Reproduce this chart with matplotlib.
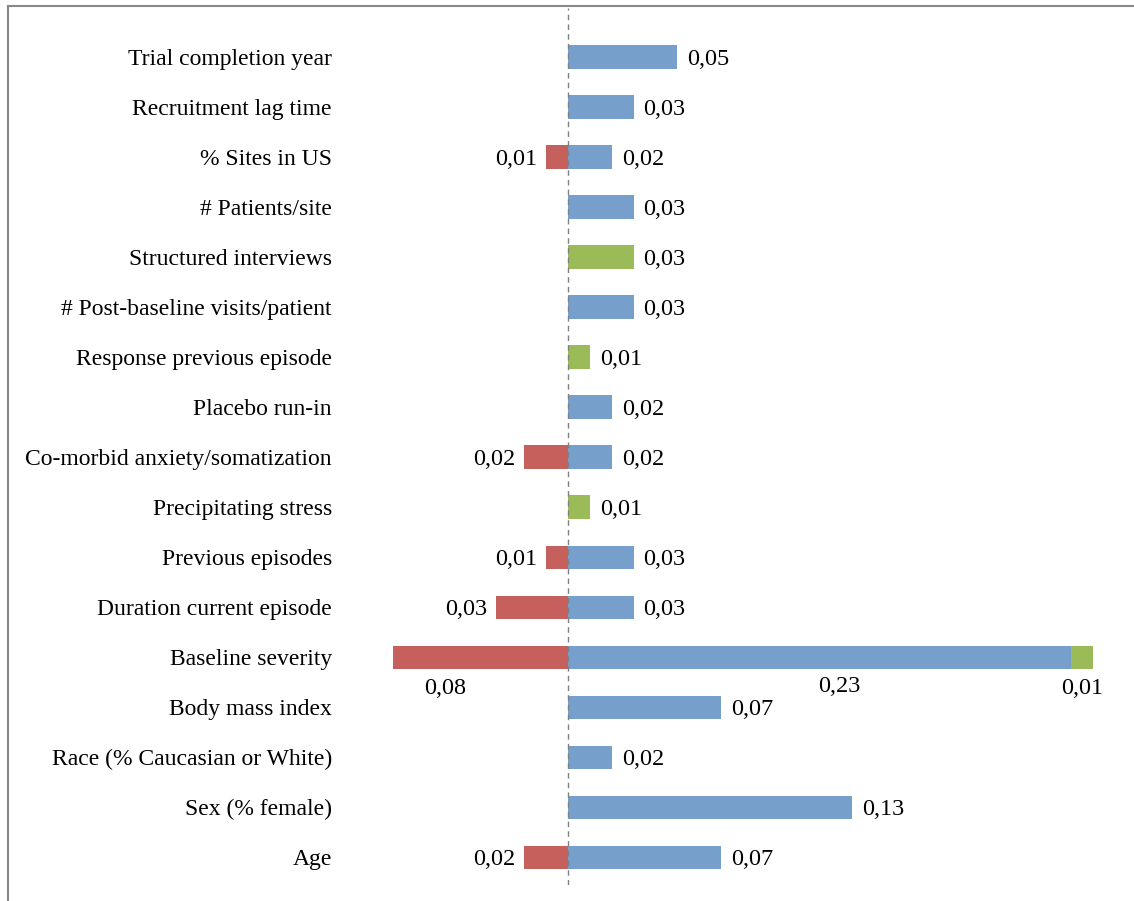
import matplotlib
matplotlib.use("Agg")
import matplotlib.pyplot as plt
from matplotlib.lines import Line2D

plt.rcParams["font.family"] = ["Liberation Serif", "DejaVu Serif"]

# categories top to bottom
categories = [
    "Trial completion year",
    "Recruitment lag time",
    "% Sites in US",
    "# Patients/site",
    "Structured interviews",
    "# Post-baseline visits/patient",
    "Response previous episode",
    "Placebo run-in",
    "Co-morbid anxiety/somatization",
    "Precipitating stress",
    "Previous episodes",
    "Duration current episode",
    "Baseline severity",
    "Body mass index",
    "Race (% Caucasian or White)",
    "Sex (% female)",
    "Age",
]
neg_vals = [0, 0, 0.01, 0, 0, 0, 0, 0, 0.02, 0, 0.01, 0.033, 0.08, 0, 0, 0, 0.02]
pos_vals = [0.05, 0.03, 0.02, 0.03, 0, 0.03, 0, 0.02, 0.02, 0, 0.03, 0.03, 0.23, 0.07, 0.02, 0.13, 0.07]
add_vals = [0, 0, 0, 0, 0.03, 0, 0.01, 0, 0, 0.01, 0, 0, 0.01, 0, 0, 0, 0]

RED = "#c6605c"
BLUE = "#779fcb"
GREEN = "#9bbb59"
BAR_H = 0.46
FS = 17
VFS = 17.5


def fmt(v):
    return f"{v:.2f}".replace(".", ",")


fig = plt.figure(figsize=(11.34, 9.01), dpi=100)
ax = fig.add_axes([345 / 1134, 1 - 885 / 901, 780 / 1134, 877 / 901])

n = len(categories)
ys = [n - 1 - i for i in range(n)]

ax.barh(ys, [-v for v in neg_vals], height=BAR_H, color=RED, edgecolor="none")
ax.barh(ys, pos_vals, height=BAR_H, color=BLUE, edgecolor="none")
ax.barh(ys, add_vals, left=pos_vals, height=BAR_H, color=GREEN, edgecolor="none")

px = 1 / 2187  # data units per pixel (x)
dy = -0.05  # value labels sit a touch lower than bar centre
for y, cat, nv, pv, av in zip(ys, categories, neg_vals, pos_vals, add_vals):
    if cat == "Baseline severity":
        # labels below the bar
        ax.text(-nv * 0.7, y - 0.62, fmt(nv), ha="center", va="center", fontsize=VFS)
        ax.text(pv * 0.54, y - 0.58, fmt(pv), ha="center", va="center", fontsize=VFS)
        ax.text(pv + av / 2, y - 0.62, fmt(av), ha="center", va="center", fontsize=VFS)
        continue
    if nv > 0:
        ax.text(-nv - 9 * px, y + dy, fmt(nv), ha="right", va="center", fontsize=VFS)
    if pv > 0:
        ax.text(pv + 10 * px, y + dy, fmt(pv), ha="left", va="center", fontsize=VFS)
    if av > 0:
        ax.text(pv + av + 10 * px, y + dy, fmt(av), ha="left", va="center", fontsize=VFS)

ax.axvline(0, color="#808080", lw=1, ls=(0, (4, 3)))

ax.set_xlim(-(568 - 345) * px, (1125 - 568) * px)
ax.set_ylim(-(885 - 857) / 50, n - 1 + (57 - 8) / 50)
ax.set_yticks(ys)
ax.set_yticklabels(categories, fontsize=FS)
ax.tick_params(axis="y", length=0, pad=9.5)
ax.set_xticks([])
for s in ax.spines.values():
    s.set_visible(False)

# outer frame (left and top edges only visible)
fig.add_artist(Line2D([8 / 1134, 8 / 1134], [0, 1 - 6 / 901], transform=fig.transFigure,
                      color="#888888", lw=1.5))
fig.add_artist(Line2D([8 / 1134, 1], [1 - 6 / 901, 1 - 6 / 901], transform=fig.transFigure,
                      color="#888888", lw=1.5))

fig.savefig("out.png", dpi=100)
